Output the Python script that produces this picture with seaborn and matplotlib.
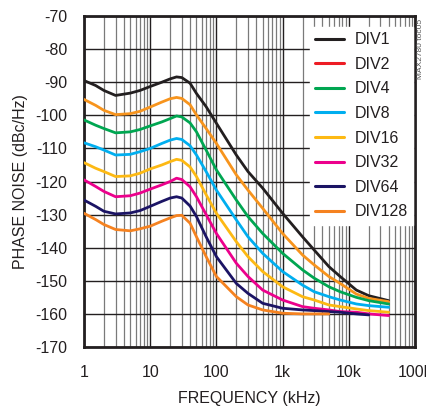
import numpy as np
import pandas as pd
import seaborn as sns
import matplotlib.pyplot as plt
from matplotlib.lines import Line2D
from matplotlib.ticker import FixedLocator, LogLocator, NullFormatter

# frequency points (kHz)
freq = [1, 1.5, 2, 3, 5, 7, 10, 15, 20, 25, 30, 40, 50, 70, 100, 200, 300,
        500, 1000, 2000, 3000, 5000, 7400, 13000, 20000, 40000]

div1 = [-89.5, -91.0, -92.5, -94.0, -93.3, -92.5, -91.3, -90.0, -89.0, -88.4, -88.6,
        -90.3, -93.4, -97.4, -102.4, -112.0, -117.0, -122.0, -129.6, -136.7, -140.7,
        -145.7, -148.7, -152.8, -154.5, -156.0]
div2 = [-95.2, -97.0, -98.5, -99.8, -99.5, -98.8, -97.5, -96.0, -95.0, -94.6, -94.9,
        -96.8, -99.9, -104.0, -108.5, -118.0, -122.6, -128.1, -135.7, -142.2, -145.2,
        -148.7, -150.8, -154.0, -155.3, -156.3]
div4 = [-101.4, -103.0, -104.0, -105.3, -105.0, -104.3, -103.2, -102.0, -101.0, -100.2, -100.5,
        -102.3, -105.0, -110.5, -116.5, -125.6, -130.6, -135.7, -141.7, -146.7, -149.2,
        -151.8, -153.3, -155.0, -156.0, -157.0]
div8 = [-108.3, -109.5, -110.5, -112.0, -111.8, -111.0, -110.0, -108.5, -107.5, -107.0, -107.3,
        -109.2, -112.0, -117.0, -122.6, -131.6, -136.7, -141.7, -147.2, -151.3, -153.3,
        -154.8, -155.8, -157.0, -157.5, -158.0]
div16 = [-114.3, -116.0, -117.0, -118.5, -118.3, -117.5, -116.2, -115.0, -114.0, -113.3, -113.6,
         -115.6, -118.5, -124.0, -129.6, -138.2, -142.7, -147.2, -151.8, -154.8, -155.8,
         -157.3, -157.8, -158.5, -159.0, -159.5]
div32 = [-119.5, -121.5, -123.0, -124.6, -124.3, -123.5, -122.3, -121.0, -120.0, -119.0, -119.4,
         -121.6, -124.6, -130.0, -135.7, -144.7, -148.7, -152.8, -155.8, -157.8, -158.3,
         -158.8, -159.3, -159.5, -160.0, -160.5]
div64 = [-125.6, -127.5, -129.0, -129.8, -129.5, -128.8, -127.5, -126.0, -125.0, -124.6, -125.0,
         -127.4, -130.6, -136.7, -142.7, -150.8, -153.8, -156.8, -158.3, -158.8, -159.0,
         -159.3, -159.5, -160.0, -160.3, np.nan]
div128 = [-129.6, -131.5, -133.0, -134.5, -134.9, -134.3, -133.5, -132.0, -131.0, -130.3, -130.2,
          -132.6, -136.7, -142.7, -148.7, -154.8, -157.3, -158.8, -159.8, -160.0, -160.0,
          -160.0, np.nan, np.nan, np.nan, np.nan]

labels = ["DIV1", "DIV2", "DIV4", "DIV8", "DIV16", "DIV32", "DIV64", "DIV128"]
series = [div1, div2, div4, div8, div16, div32, div64, div128]
line_colors = ["#231f20", "#f7941d", "#00a651", "#00aeef", "#fdb913", "#ec008c", "#1b1464", "#f58220"]
legend_colors = ["#231f20", "#ed1c24", "#00a651", "#00aeef", "#fdb913", "#ec008c", "#1b1464", "#f58220"]

x_ticks = [1, 10, 100, 1000, 10000, 100000]
x_ticklabels = ["1", "10", "100", "1k", "10k", "100k"]
y_ticks = list(range(-170, -69, 10))

sns.set_style("white")
plt.rcParams["font.family"] = ["Liberation Sans Narrow", "Liberation Sans", "DejaVu Sans"]

fig = plt.figure(figsize=(4.27, 4.09), dpi=100)
ax = fig.add_axes([84 / 427, 1 - 347 / 409, 331 / 427, 331 / 409])

ink = "#231f20"
for lab, vals, col in zip(labels, series, line_colors):
    df = pd.DataFrame({"f": freq, "v": vals}).dropna()
    sns.lineplot(data=df, x="f", y="v", color=col, lw=2.0, ax=ax, legend=False, zorder=3)

ax.set_xscale("log")
ax.set_xlim(1, 100000)
ax.set_ylim(-170, -70)
ax.xaxis.set_major_locator(FixedLocator(x_ticks))
ax.set_xticklabels(x_ticklabels)
ax.xaxis.set_minor_locator(LogLocator(base=10, subs=np.arange(2, 10)))
ax.xaxis.set_minor_formatter(NullFormatter())
ax.set_yticks(y_ticks)
ax.set_yticklabels([str(t) for t in y_ticks])

ax.set_axisbelow(True)
ax.grid(which="major", color=ink, lw=1.0)
ax.grid(which="minor", axis="x", color="#7a7a7a", lw=0.9)
ax.tick_params(which="both", length=0, labelsize=11.5, colors=ink)
ax.tick_params(axis="y", pad=12)
ax.tick_params(axis="x", pad=13)

for s in ax.spines.values():
    s.set_visible(True)
    s.set_color(ink)
    s.set_linewidth(2.0)

ax.set_xlabel("FREQUENCY (kHz)", fontsize=11.5, color=ink, labelpad=8)
ax.set_ylabel("PHASE NOISE (dBc/Hz)", fontsize=11.5, color=ink, labelpad=5)

handles = [Line2D([0], [0], color=c, lw=2.2) for c in legend_colors]
leg = ax.legend(handles, labels, loc="upper right", bbox_to_anchor=(0.995, 0.968),
                frameon=True, fancybox=False, framealpha=1, edgecolor="white",
                facecolor="white", fontsize=11.5, handlelength=1.8, labelspacing=0.6,
                borderpad=0.35, handletextpad=0.65, borderaxespad=0)
for t in leg.get_texts():
    t.set_color(ink)

fig.text(0.985, 0.955, "MAX2780 toc05", rotation=90, fontsize=6, color="#555555",
         ha="center", va="top")

fig.savefig("out.png", dpi=100)
